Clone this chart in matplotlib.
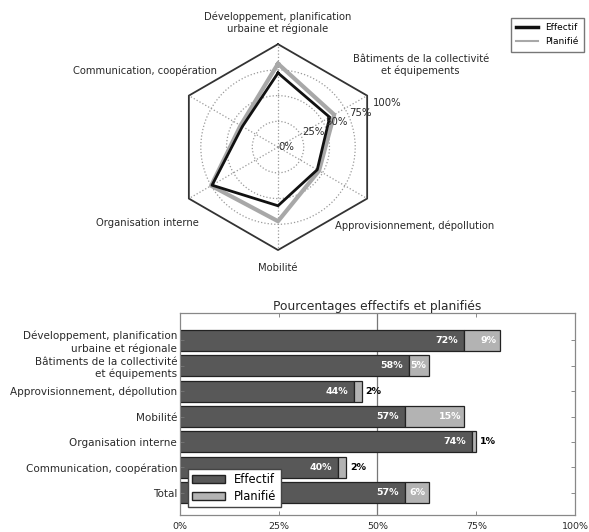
import numpy as np
import matplotlib
matplotlib.use('Agg')
import matplotlib.pyplot as plt
from matplotlib.lines import Line2D
from matplotlib.patches import Patch

# Data
categories = ['Développement, planification\nurbaine et régionale',
              'Bâtiments de la collectivité\net équipements',
              'Approvisionnement, dépollution',
              'Mobilité',
              'Organisation interne',
              'Communication, coopération']
effectif = [72, 58, 44, 57, 74, 40]
planifie = [9, 5, 2, 15, 1, 2]

bar_labels = categories + ['Total']
bar_effectif = effectif + [57]
bar_planifie = planifie + [6]

radial_ticks = [0, 25, 50, 75, 100]
x_ticks = [0, 25, 50, 75, 100]

dark = '#585858'
light = '#b3b3b3'
txt = '#2a2a2a'

fig = plt.figure(figsize=(5.89, 5.32), dpi=100)

# ---------------- Radar ----------------
ax = fig.add_axes([0.297, 0.530, 0.350, 0.387], polar=True)
ax.set_theta_offset(np.pi / 2)
ax.set_theta_direction(-1)
n = len(categories)
theta = np.linspace(0, 2 * np.pi, n, endpoint=False)
theta_c = np.append(theta, theta[0])

# hexagon frame
ax.plot(theta_c, [1.0] * (n + 1), color='#333333', lw=1.3, clip_on=False)
# spokes
for t in theta:
    ax.plot([t, t], [0, 1], color='#999999', ls=':', lw=0.9)

eff_r = np.array(effectif) / 100.0
plan_r = (np.array(effectif) + np.array(planifie)) / 100.0
ax.plot(theta_c, np.append(plan_r, plan_r[0]), color='#a8a8a8', lw=3.0)
ax.plot(theta_c, np.append(eff_r, eff_r[0]), color='#111111', lw=2.0)

ax.set_ylim(0, 1)
ax.set_yticks([r / 100 for r in radial_ticks[1:-1]])
ax.set_yticklabels([])
ax.set_xticks([])
ax.yaxis.grid(True, color='#999999', ls=':', lw=0.9)
ax.xaxis.grid(False)
ax.spines['polar'].set_visible(False)
ax.patch.set_visible(False)

# radial labels along ~22.5 deg
rl_theta = np.deg2rad(67.5)
for r in radial_ticks:
    if r == 0:
        ax.text(0.03, 0.0, '0%', ha='left', va='center', fontsize=7.3,
                color=txt)
    else:
        ax.text(rl_theta, r / 100, '%d%%' % r, ha='left', va='bottom',
                fontsize=7.3, color=txt)

label_r = [1.21, 1.6, 1.53, 1.17, 1.47, 1.49]
for t, lab, rr in zip(theta, categories, label_r):
    ax.text(t, rr, lab, ha='center', va='center', fontsize=7.2, color=txt,
            multialignment='center', clip_on=False)

fig.legend(handles=[Line2D([], [], color='#111111', lw=2.5),
                    Line2D([], [], color='#a8a8a8', lw=1.5)],
           labels=['Effectif', 'Planifié'], loc='upper right',
           bbox_to_anchor=(0.999, 0.975), fontsize=6.5, frameon=True,
           fancybox=False, edgecolor='#555555', handlelength=2.4,
           borderpad=0.6, labelspacing=0.55)

# ---------------- Bars ----------------
bx = fig.add_axes([0.3056, 0.032, 0.6706, 0.3797])
y = np.arange(len(bar_labels))
bx.axvline(50, color='#777777', lw=0.9, zorder=0.5)
bx.barh(y, bar_effectif, height=0.82, color=dark, edgecolor='#222222', lw=0.9)
bx.barh(y, bar_planifie, left=bar_effectif, height=0.82, color=light,
        edgecolor='#222222', lw=0.9)

for yi, e, p in zip(y, bar_effectif, bar_planifie):
    bx.text(e - 1.5, yi, '%d%%' % e, ha='right', va='center', color='white',
            fontsize=6.8, fontweight='bold')
    if p >= 3:
        bx.text(e + p - 0.8, yi, '%d%%' % p, ha='right', va='center',
                color='white', fontsize=6.8, fontweight='bold')
    else:
        bx.text(e + p + 1.0, yi, '%d%%' % p, ha='left', va='center',
                color='black', fontsize=6.8, fontweight='bold')

bx.set_xlim(0, 100)
bx.set_ylim(6.88, -1.08)
bx.set_xticks(x_ticks)
bx.set_xticklabels(['%d%%' % v for v in x_ticks], fontsize=6.8, color=txt)
bx.set_yticks(y)
bx.set_yticklabels(bar_labels, fontsize=7.5, color=txt)
bx.tick_params(direction='in', top=True, right=True, length=3, width=0.6,
               color='#777777', pad=2)
bx.tick_params(axis='x', pad=5)
for s in bx.spines.values():
    s.set_color('#888888')
    s.set_linewidth(0.9)
bx.set_title('Pourcentages effectifs et planifiés', fontsize=8.8, color=txt,
             pad=2)
bx.legend(handles=[Patch(facecolor=dark, edgecolor='#222222'),
                   Patch(facecolor=light, edgecolor='#222222')],
          labels=['Effectif', 'Planifié'], loc='lower left', fontsize=8.3,
          fancybox=False, edgecolor='#444444', framealpha=1,
          handlelength=2.8, borderpad=0.4, labelspacing=0.3,
          bbox_to_anchor=(0.005, 0.01))

fig.savefig('out.png', dpi=100)
